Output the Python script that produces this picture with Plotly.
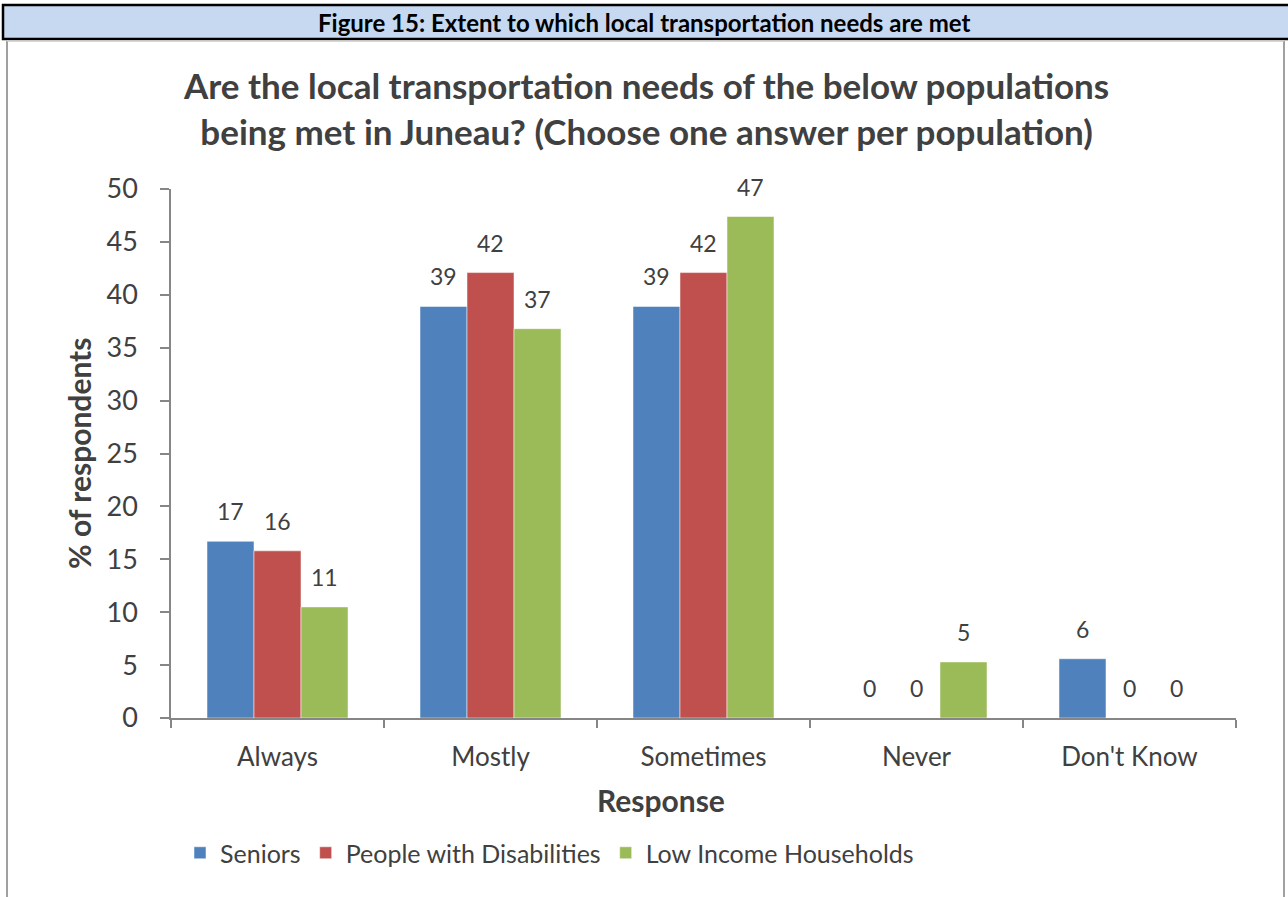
import math
import plotly.graph_objects as go

# ---- data ----
categories = ["Always", "Mostly", "Sometimes", "Never", "Don't Know"]
seniors = [16.7, 38.9, 38.9, 0, 5.6]
disabilities = [15.8, 42.1, 42.1, 0, 0]
low_income = [10.5, 36.8, 47.4, 5.3, 0]
series_names = ["Seniors", "People with Disabilities", "Low Income Households"]
y_ticks = [0, 5, 10, 15, 20, 25, 30, 35, 40, 45, 50]

header_text = "Figure 15: Extent to which local transportation needs are met"
chart_title = ("Are the local transportation needs of the below populations<br>"
               "being met in Juneau? (Choose one answer per population)")
y_title = "% of respondents"
x_title = "Response"

# ---- style ----
colors = ["#4F81BD", "#C0504D", "#9BBB59"]
FONT = "Lato, 'Open Sans', sans-serif"
TXT = "#404040"
W, H = 1288, 897
L, R, T, B = 171, 1236, 189, 718  # plot area pixel bounds


def px(x):
    return (x - L) / (R - L)


def py(y):
    return (B - y) / (B - T)


fig = go.Figure()
all_series = [seniors, disabilities, low_income]
for name, vals, col in zip(series_names, all_series, colors):
    fig.add_trace(go.Bar(
        x=categories, y=vals, name=name,
        marker=dict(color=col, line=dict(color="white", width=0.5)),
    ))

annotations = []
bw = (R - L) / len(categories) * (1 - 0.338) / 3
for j, vals in enumerate(all_series):
    for c, v in zip(categories, vals):
        annotations.append(dict(
            x=c, y=v, xref="x", yref="y", text=str(math.floor(v + 0.5)),
            showarrow=False, xshift=(j - 1) * bw, yshift=14, yanchor="bottom",
            font=dict(family=FONT, size=23, color=TXT)))

annotations += [
    dict(x=px(644), y=py(22), xref="paper", yref="paper", text="<b>" + header_text + "</b>",
         showarrow=False, xanchor="center", yanchor="middle",
         font=dict(family=FONT, size=24, color="black")),
    dict(x=px(646), y=py(108), xref="paper", yref="paper", text="<b>" + chart_title + "</b>",
         showarrow=False, xanchor="center", yanchor="middle",
         font=dict(family=FONT, size=35, color=TXT)),
    dict(x=px(79), y=py(454), xref="paper", yref="paper", text="<b>" + y_title + "</b>",
         showarrow=False, xanchor="center", yanchor="middle", textangle=-90,
         font=dict(family=FONT, size=30, color=TXT)),
    dict(x=px(661), y=py(800), xref="paper", yref="paper", text="<b>" + x_title + "</b>",
         showarrow=False, xanchor="center", yanchor="middle",
         font=dict(family=FONT, size=30, color=TXT)),
]

shapes = [
    # header box
    dict(type="rect", xref="paper", yref="paper", x0=px(3), x1=px(1295), y0=py(5), y1=py(39),
         fillcolor="#C6D9F1", line=dict(color="black", width=2.5), layer="above"),
    # frame lines
    dict(type="line", xref="paper", yref="paper", x0=px(7), x1=px(7), y0=py(41), y1=py(900),
         line=dict(color="#A0A0A0", width=2)),
    dict(type="line", xref="paper", yref="paper", x0=px(1284), x1=px(1284), y0=py(41), y1=py(900),
         line=dict(color="#A0A0A0", width=2)),
    dict(type="line", xref="paper", yref="paper", x0=px(7), x1=px(1284), y0=py(41), y1=py(41),
         line=dict(color="#C8C8C8", width=1.5)),
]

fig.update_layout(
    width=W, height=H,
    margin=dict(l=L, r=W - R, t=T, b=H - B),
    paper_bgcolor="white", plot_bgcolor="white",
    barmode="group", bargap=0.338, bargroupgap=0,
    font=dict(family=FONT, color=TXT),
    showlegend=True,
    legend=dict(orientation="h", x=px(180), y=py(853), xanchor="left", yanchor="middle",
                font=dict(family=FONT, size=25, color=TXT), itemwidth=30,
                bgcolor="rgba(0,0,0,0)"),
    annotations=annotations,
    shapes=shapes,
)
fig.update_xaxes(
    showline=True, linecolor="#868686", linewidth=1.5,
    ticks="outside", tickson="boundaries", ticklen=8, tickcolor="#868686", tickwidth=1.5,
    ticklabelstandoff=15,
    tickfont=dict(family=FONT, size=26, color=TXT), showgrid=False, fixedrange=True,
)
fig.update_yaxes(
    range=[0, 50], tickvals=y_ticks, showline=True, linecolor="#868686", linewidth=1.5,
    ticks="outside", ticklen=9, tickcolor="#868686", tickwidth=1.5,
    ticklabelstandoff=17,
    tickfont=dict(family=FONT, size=27, color=TXT), showgrid=False, zeroline=False,
    fixedrange=True,
)

fig.write_html("out.html", post_script="document.body.style.margin='0';",
               config={"displayModeBar": False})
